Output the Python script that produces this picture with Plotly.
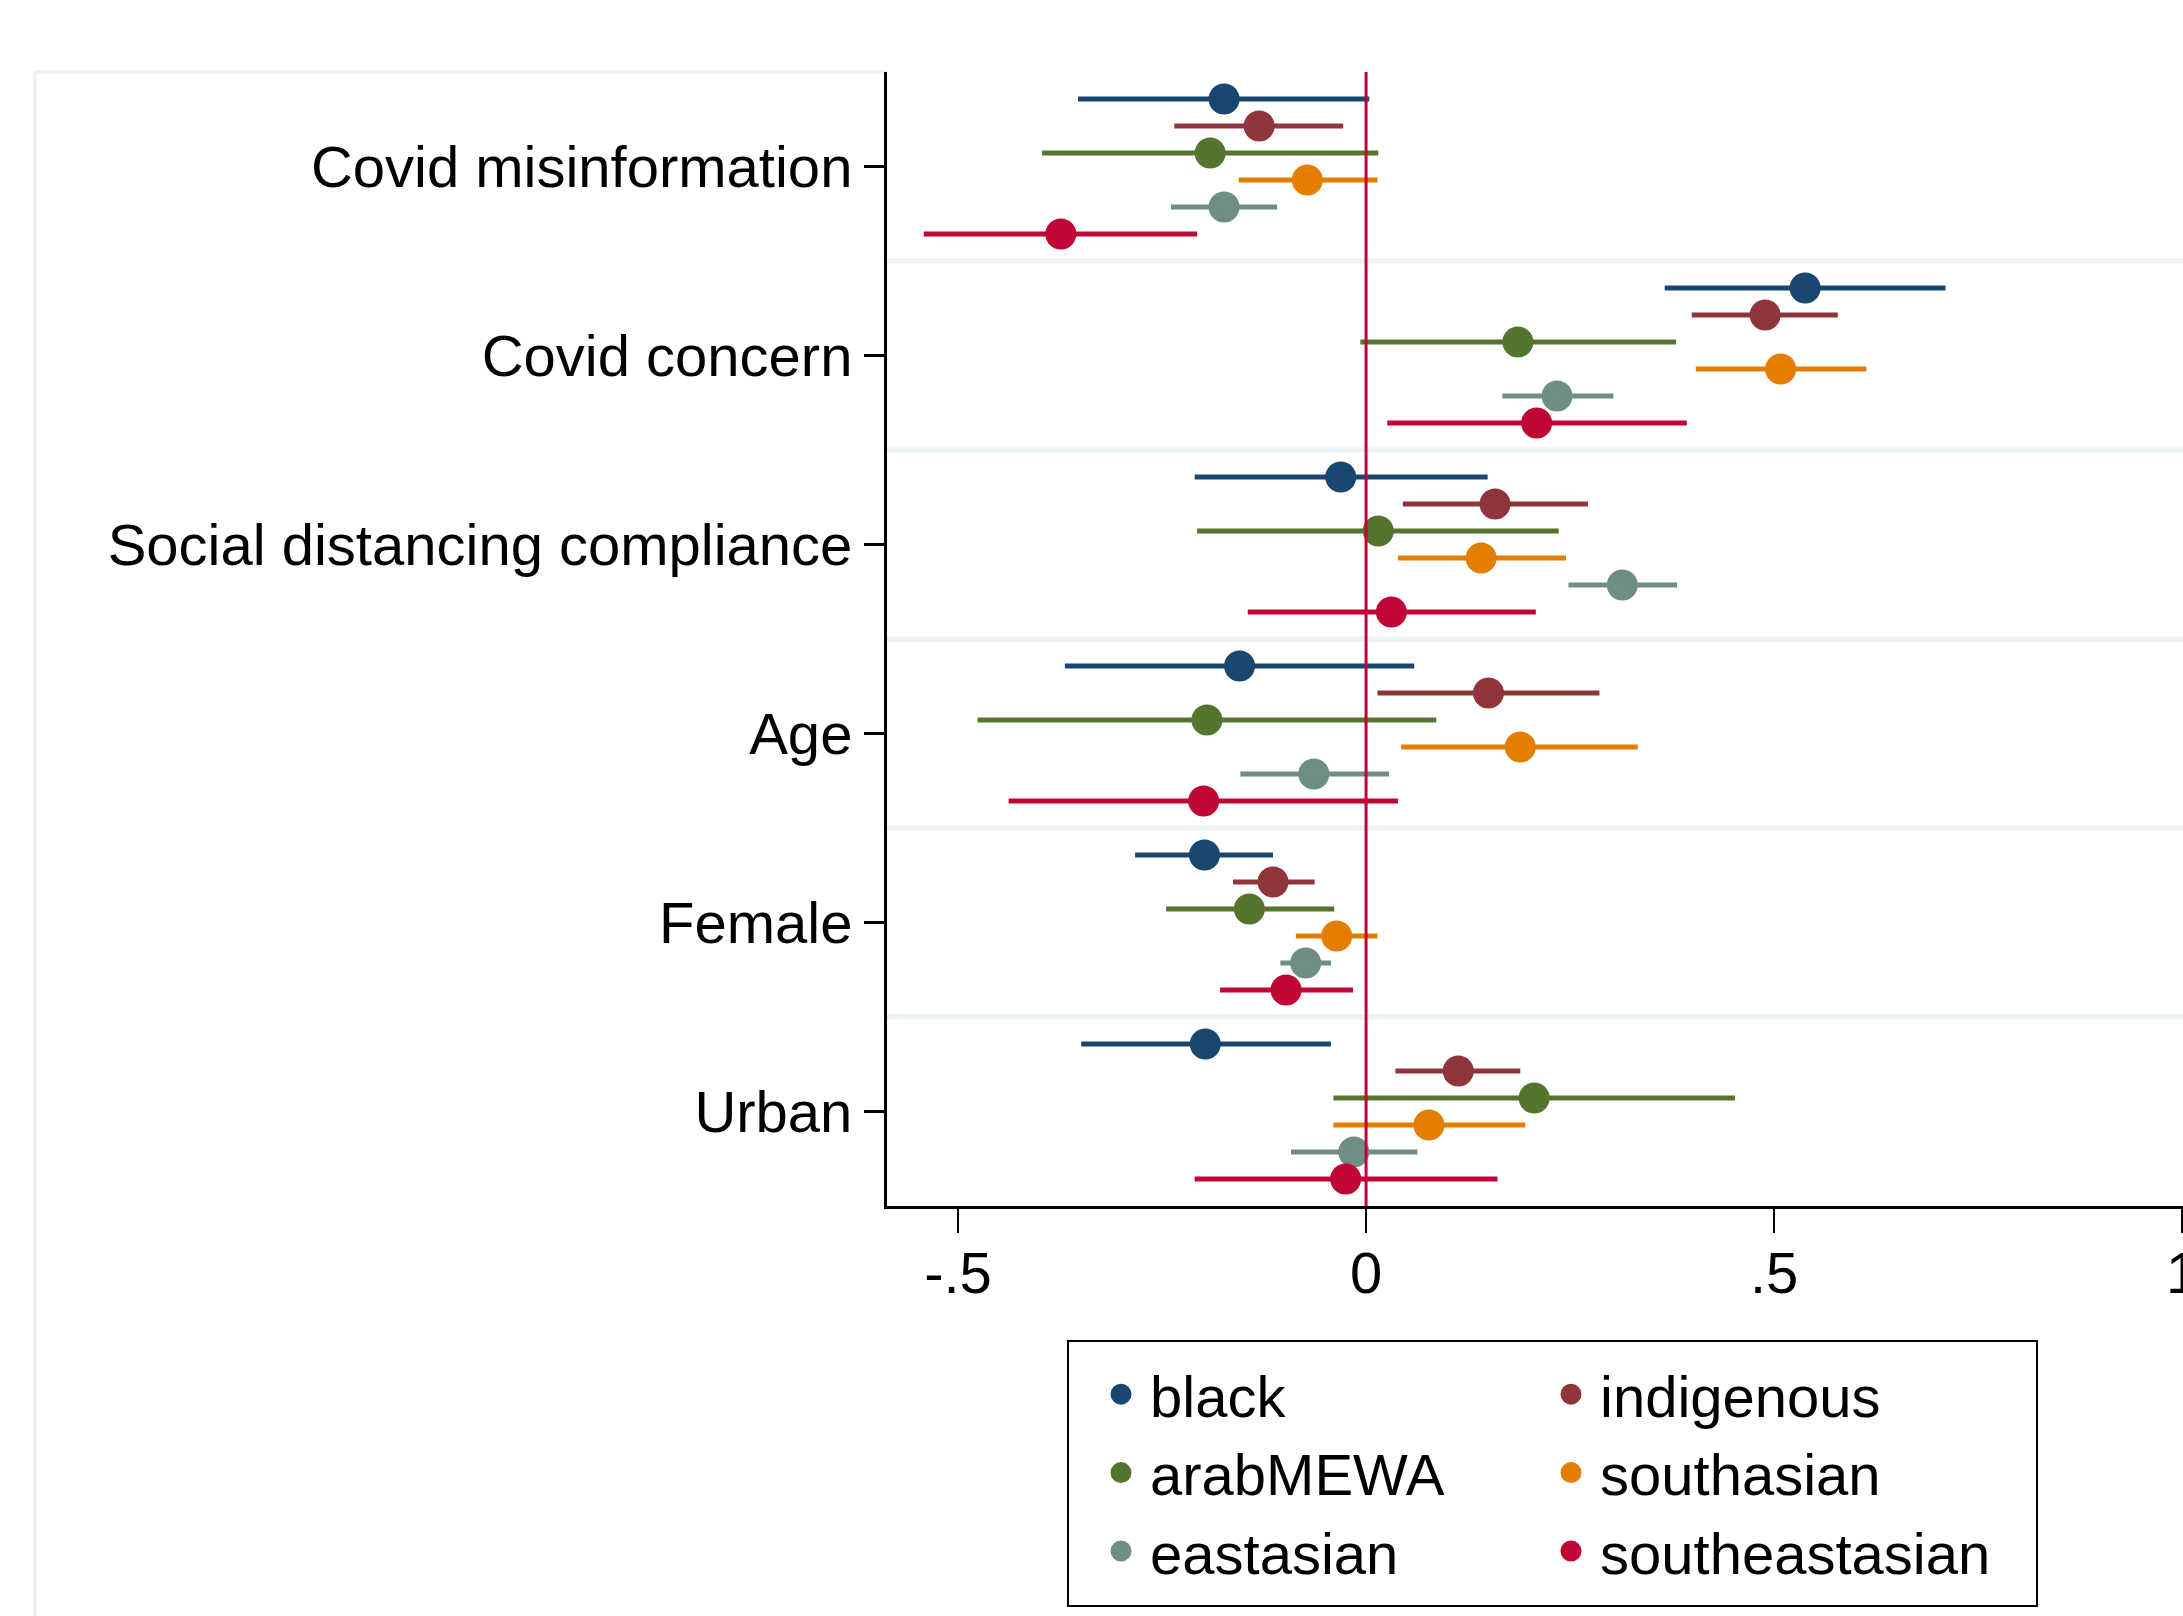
import plotly.graph_objects as go

# ---- data ----
outcomes = ["Covid misinformation", "Covid concern", "Social distancing compliance",
            "Age", "Female", "Urban"]
groups = ["black", "indigenous", "arabMEWA", "southasian", "eastasian", "southeastasian"]
colors = ["#1a476f", "#90353b", "#55752f", "#e37e00", "#6e8e84", "#c10534"]

# point estimates per group, in outcome order
est_black = [-0.174, 0.538, -0.031, -0.155, -0.198, -0.197]
est_indigenous = [-0.131, 0.489, 0.158, 0.150, -0.114, 0.113]
est_arabMEWA = [-0.191, 0.186, 0.015, -0.195, -0.143, 0.206]
est_southasian = [-0.072, 0.508, 0.141, 0.189, -0.036, 0.077]
est_eastasian = [-0.174, 0.234, 0.314, -0.064, -0.074, -0.015]
est_southeastasian = [-0.374, 0.209, 0.031, -0.199, -0.098, -0.025]

lo_black = [-0.353, 0.366, -0.210, -0.369, -0.283, -0.349]
lo_indigenous = [-0.235, 0.399, 0.045, 0.014, -0.163, 0.036]
lo_arabMEWA = [-0.397, -0.007, -0.207, -0.476, -0.245, -0.040]
lo_southasian = [-0.156, 0.404, 0.039, 0.043, -0.086, -0.040]
lo_eastasian = [-0.239, 0.167, 0.248, -0.154, -0.105, -0.092]
lo_southeastasian = [-0.542, 0.026, -0.145, -0.438, -0.179, -0.210]

hi_black = [0.004, 0.710, 0.149, 0.059, -0.114, -0.043]
hi_indigenous = [-0.028, 0.578, 0.272, 0.286, -0.063, 0.189]
hi_arabMEWA = [0.015, 0.380, 0.236, 0.086, -0.039, 0.452]
hi_southasian = [0.014, 0.613, 0.245, 0.333, 0.014, 0.195]
hi_eastasian = [-0.109, 0.303, 0.381, 0.028, -0.043, 0.063]
hi_southeastasian = [-0.207, 0.393, 0.208, 0.039, -0.016, 0.161]

x_ticks = [-0.5, 0, 0.5, 1]
x_ticklabels = ["-.5", "0", ".5", "1"]

estimates = [est_black, est_indigenous, est_arabMEWA, est_southasian, est_eastasian, est_southeastasian]
lows = [lo_black, lo_indigenous, lo_arabMEWA, lo_southasian, lo_eastasian, lo_southeastasian]
highs = [hi_black, hi_indigenous, hi_arabMEWA, hi_southasian, hi_eastasian, hi_southeastasian]

FONT = "Liberation Sans, Arial, Helvetica, sans-serif"
W, H = 2183, 1616
ML, MR, MT, MB = 887, 0, 72, 410
PW, PH = W - ML - MR, H - MT - MB


def px_x(p):
    return (p - ML) / PW


def px_y(p):
    return (MT + PH - p) / PH


fig = go.Figure()
n = len(groups)
for gi, (g, c, est, lo, hi) in enumerate(zip(groups, colors, estimates, lows, highs)):
    offset = (gi - (n - 1) / 2) / 7.0
    ys = [k + 1 + offset for k in range(len(outcomes))]
    fig.add_trace(go.Scatter(
        x=est, y=ys, mode="markers", name=g,
        marker=dict(color=c, size=26, line=dict(width=5, color=c)),
        error_x=dict(type="data", symmetric=False,
                     array=[h - e for h, e in zip(hi, est)],
                     arrayminus=[e - l for e, l in zip(est, lo)],
                     color=c, thickness=5, width=0),
    ))

shapes = []
# light separators between outcome groups
for k in range(1, len(outcomes)):
    shapes.append(dict(type="line", xref="paper", yref="y", x0=0, x1=1,
                       y0=k + 0.5, y1=k + 0.5, layer="below",
                       line=dict(color="#eaf2f3", width=5)))
# outer frame fragments (graph region outline)
fx = px_x(35)
shapes.append(dict(type="line", xref="paper", yref="paper",
                   x0=fx, x1=0, y0=1.0, y1=1.0,
                   line=dict(color="#eaf2f3", width=4), layer="below"))
shapes.append(dict(type="line", xref="paper", yref="paper",
                   x0=fx, x1=fx, y0=1.0, y1=px_y(H),
                   line=dict(color="#eaf2f3", width=4), layer="below"))
# reference line at zero
shapes.append(dict(type="line", xref="x", yref="paper", x0=0, x1=0, y0=0, y1=1,
                   layer="above", line=dict(color="#c10534", width=3)))
# legend frame
shapes.append(dict(type="rect", xref="paper", yref="paper",
                   x0=px_x(1068), x1=px_x(2037), y0=px_y(1341), y1=px_y(1606),
                   line=dict(color="black", width=2), fillcolor="rgba(0,0,0,0)",
                   layer="above"))

fig.update_layout(
    width=W, height=H,
    margin=dict(l=ML, r=MR, t=MT, b=MB, pad=0, autoexpand=False),
    paper_bgcolor="white", plot_bgcolor="white",
    font=dict(family=FONT, size=58, color="black"),
    shapes=shapes,
    showlegend=True,
    legend=dict(
        orientation="h",
        x=px_x(1092), xanchor="left",
        y=px_y(1350), yanchor="top",
        bgcolor="rgba(0,0,0,0)",
        borderwidth=0,
        itemwidth=48,
        entrywidth=387, entrywidthmode="pixels",
        font=dict(family=FONT, size=58, color="black"),
        itemsizing="trace",
        traceorder="normal",
    ),
    xaxis=dict(
        range=[-0.587, 1.001],
        tickvals=x_ticks, ticktext=x_ticklabels,
        showgrid=False, zeroline=False,
        showline=True, linecolor="black", linewidth=3,
        ticks="outside", ticklen=24, tickwidth=2, tickcolor="black",
        tickfont=dict(family=FONT, size=58),
        ticklabeloverflow="allow",
        ticklabelstandoff=-10,
        automargin=False,
        fixedrange=True,
    ),
    yaxis=dict(
        range=[6.5, 0.5],
        tickvals=[k + 1 for k in range(len(outcomes))], ticktext=outcomes,
        showgrid=False, zeroline=False,
        showline=True, linecolor="black", linewidth=3,
        ticks="outside", ticklen=20, tickwidth=3, tickcolor="black",
        tickfont=dict(family=FONT, size=58),
        automargin=False,
        fixedrange=True,
    ),
)

post = (
    "document.documentElement.style.overflow='hidden';"
    "document.body.style.margin='0';document.body.style.overflow='hidden';"
    "var gd=document.getElementById('{plot_id}');"
    "gd.style.overflow='hidden';"
    "var sc=gd.querySelector('.svg-container');if(sc){sc.style.overflow='hidden';}"
)
fig.write_html("out.html", config={"displayModeBar": False}, post_script=post)
